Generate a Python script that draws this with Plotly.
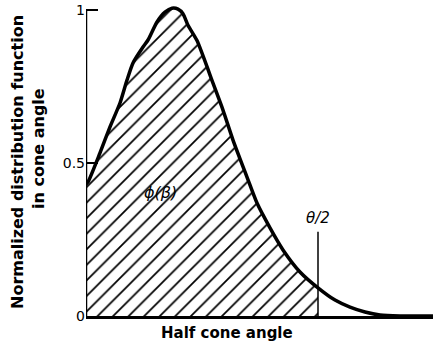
import numpy as np
import plotly.graph_objects as go

# Normalized distribution in half cone angle (arbitrary angle units)
beta = [0.00, 0.02, 0.14, 0.24, 0.34, 0.41, 0.47, 0.57, 0.62, 0.71, 0.79, 0.86,
        0.92, 0.97, 1.02, 1.11, 1.27, 1.37, 1.47, 1.61, 1.71, 1.84, 1.97, 2.14,
        2.32, 2.49, 2.64, 2.79, 2.94, 3.14, 3.47]
phi = [0.431, 0.438, 0.533, 0.618, 0.696, 0.771, 0.827, 0.879, 0.902, 0.961, 0.993, 1.006,
       1.003, 0.988, 0.950, 0.900, 0.761, 0.673, 0.575, 0.454, 0.369, 0.288, 0.216, 0.144,
       0.092, 0.052, 0.029, 0.013, 0.003, 0.000, 0.000]
theta_half = 2.32
y_ticks = [0, 0.5, 1]
y_tick_text = ["0", "0.5", "1"]

beta = np.array(beta)
phi = np.array(phi)
phi_cut = float(np.interp(theta_half, beta, phi))
mask = beta < theta_half
fill_x = list(beta[mask]) + [theta_half]
fill_y = list(phi[mask]) + [phi_cut]

fig = go.Figure()

# hatched area under the curve up to theta/2
fig.add_trace(go.Scatter(
    x=fill_x, y=fill_y, mode="lines",
    line=dict(width=0, shape="spline", smoothing=0.6),
    fill="tozeroy", fillcolor="white",
    fillpattern=dict(shape="/", fgcolor="black", bgcolor="white", fgopacity=1,
                     size=11, solidity=0.16),
    hoverinfo="skip", showlegend=False,
))

# distribution curve
fig.add_trace(go.Scatter(
    x=beta, y=phi, mode="lines",
    line=dict(color="black", width=3.5, shape="spline", smoothing=0.6),
    showlegend=False,
))

# vertical axis line, ending at the top tick
fig.add_shape(type="line", x0=0, x1=0, y0=0, y1=1,
              line=dict(color="black", width=2.5))

# theta/2 marker
fig.add_shape(type="line", x0=theta_half, x1=theta_half, y0=0, y1=0.275,
              line=dict(color="black", width=1.5))
fig.add_annotation(x=theta_half, y=0.275, text="<i>θ/2</i>", showarrow=False,
                   yanchor="bottom", yshift=3,
                   font=dict(family="DejaVu Sans", size=15, color="black"))
fig.add_annotation(x=0.74, y=0.405, text="<i>ϕ(β)</i>", showarrow=False,
                   font=dict(family="DejaVu Sans", size=16, color="black"))

# axis titles
ytop = 315 / 306
fig.add_annotation(xref="paper", yref="paper", x=(17 - 86) / 347, y=(316 - 162) / 315,
                   text="<b>Normalized distribution function</b>",
                   textangle=-90, showarrow=False, xanchor="center", yanchor="middle",
                   font=dict(family="DejaVu Sans", size=16, color="black"))
fig.add_annotation(xref="paper", yref="paper", x=(38 - 86) / 347, y=(316 - 148) / 315,
                   text="<b>in cone angle</b>",
                   textangle=-90, showarrow=False, xanchor="center", yanchor="middle",
                   font=dict(family="DejaVu Sans", size=16, color="black"))
fig.add_annotation(xref="paper", yref="paper", x=(227 - 86) / 347, y=(316 - 333) / 315,
                   text="<b>Half cone angle</b>", showarrow=False, yanchor="middle",
                   font=dict(family="DejaVu Sans", size=15, color="black"))

fig.update_xaxes(range=[0, 3.47], showline=True, linecolor="black", linewidth=3,
                 showticklabels=False, ticks="", showgrid=False, zeroline=False)
fig.update_yaxes(range=[0, ytop], showline=False,
                 tickvals=y_ticks, ticktext=y_tick_text, ticks="inside", ticklen=12,
                 tickwidth=1.5, tickcolor="black", showgrid=False, zeroline=False,
                 tickfont=dict(family="DejaVu Sans", size=14, color="black"))

fig.update_layout(
    width=433, height=347,
    margin=dict(l=86, r=0, t=1, b=31),
    plot_bgcolor="white", paper_bgcolor="white",
)

fig.write_html("out.html")
